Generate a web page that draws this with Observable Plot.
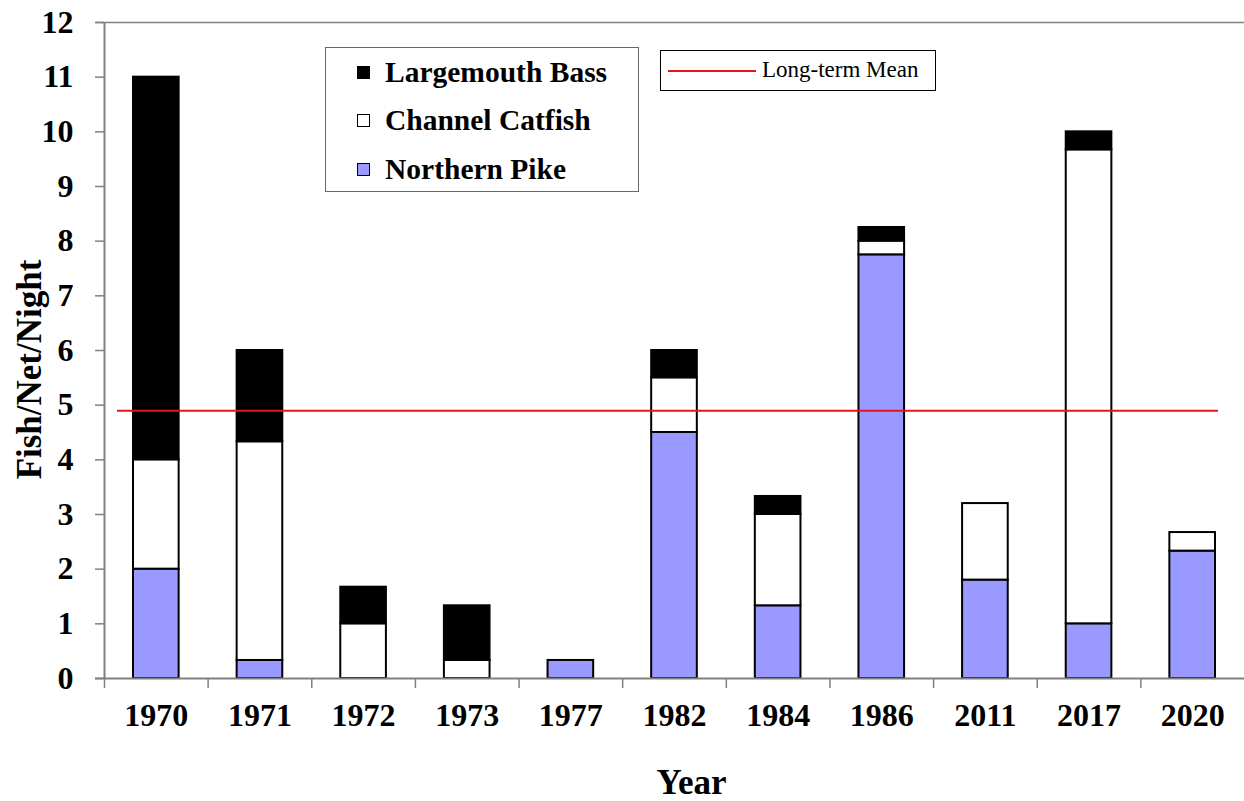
<!DOCTYPE html>
<html><head><meta charset="utf-8">
<script src="https://cdn.jsdelivr.net/npm/d3@7"></script>
<script src="https://cdn.jsdelivr.net/npm/@observablehq/plot@0.6"></script>
<style>
body{margin:0;background:#fff}
#wrap{position:relative;width:1244px;height:801px;font-family:'Liberation Serif',serif}
.leg1{position:absolute;left:325px;top:47px;width:314px;height:145px;border:1px solid #666;box-sizing:border-box;background:#fff}
.leg1 .row{position:absolute;left:31px;height:30px;display:flex;align-items:center;font-family:'Liberation Serif',serif;font-weight:bold;font-size:29.5px;color:#000;white-space:nowrap}
.leg1 .sw{width:13px;height:13px;border:1px solid #000;box-sizing:border-box;margin-right:15px}
.leg2{position:absolute;left:660px;top:50px;width:276px;height:41px;border:1.5px solid #000;box-sizing:border-box;background:#fff}
.leg2 .ln{position:absolute;left:7px;top:19px;width:88px;height:2px;background:#e8141c}
.leg2 .tx{position:absolute;left:101px;top:6px;font-family:'Liberation Serif',serif;font-size:23px;color:#000;white-space:nowrap}
</style>
</head><body><div id="wrap"></div>
<script>
const years = ["1970","1971","1972","1973","1977","1982","1984","1986","2011","2017","2020"];
const species = ["Northern Pike","Channel Catfish","Largemouth Bass"];
const northernPike   = [2.0, 0.33, 0, 0, 0.33, 4.5, 1.33, 7.75, 1.8, 1.0, 2.33];
const channelCatfish = [2.0, 4.0, 1.0, 0.33, 0, 1.0, 1.67, 0.25, 1.4, 8.67, 0.34];
const largemouthBass = [7.0, 1.67, 0.67, 1.0, 0, 0.5, 0.33, 0.25, 0, 0.33, 0];
const longTermMean = 4.9;
const yTicks = [0,1,2,3,4,5,6,7,8,9,10,11,12];
const colors = ["#9999ff","#ffffff","#000000"];

const series = [northernPike, channelCatfish, largemouthBass];
const data = [];
years.forEach((yr, i) => {
  species.forEach((sp, s) => {
    if (series[s][i] > 0) data.push({year: yr, species: sp, value: series[s][i]});
  });
});

const W = 1244, H = 801, mL = 104, mR = 0, mT = 22, mB = 123;
const step = (W - mL - mR) / years.length;
const serif = "'Liberation Serif','Times New Roman',serif";

const chart = Plot.plot({
  width: W, height: H,
  marginLeft: mL, marginRight: mR, marginTop: mT, marginBottom: mB,
  style: {fontFamily: serif, fontSize: "32px", fontWeight: "bold", color: "#000", background: "#fff", overflow: "visible"},
  x: {domain: years, padding: 0, round: false, label: null},
  y: {domain: [0, 12], label: null},
  color: {domain: species, range: colors},
  marks: [
    Plot.ruleY([12], {stroke: "#808080", strokeWidth: 1.5, insetLeft: -9}),
    Plot.barY(data, {x: "year", y: "value", fill: "species", stroke: "#000", strokeWidth: 2, insetLeft: 29, insetRight: 29}),
    Plot.ruleY([0], {stroke: "#808080", strokeWidth: 2, insetLeft: -9}),
    Plot.ruleX([years[0]], {dx: -step / 2, y1: 0, y2: 12, stroke: "#808080", strokeWidth: 2}),
    Plot.axisY({ticks: yTicks, tickSize: 9, tickPadding: 22, stroke: "#808080", strokeWidth: 1.5, label: null, fontSize: 32, fontFamily: serif, fontWeight: "bold", tickFormat: d => String(d)}),
    Plot.axisX({tickSize: 10, dx: -step / 2, stroke: "#808080", strokeWidth: 1.5, tickFormat: () => "", label: null}),
    Plot.axisX({tickSize: 0, tickPadding: 25, label: null, fontSize: 32, fontFamily: serif, fontWeight: "bold"}),
    Plot.ruleY([longTermMean], {stroke: "#e8141c", strokeWidth: 2, insetLeft: 13, insetRight: 26}),
    Plot.text(["Fish/Net/Night"], {frameAnchor: "left", text: d => d, rotate: -90, textAnchor: "middle", dx: -75, dy: 19, fontSize: 35, fontWeight: "bold", fontFamily: serif}),
    Plot.text(["Year"], {frameAnchor: "bottom", text: d => d, textAnchor: "middle", dx: 17, dy: 104, fontSize: 35, fontWeight: "bold", fontFamily: serif, lineAnchor: "middle"})
  ]
});

const wrap = document.getElementById("wrap");
wrap.appendChild(chart);

const leg1 = document.createElement("div");
leg1.className = "leg1";
const order = [2, 1, 0];
const tops = [9, 57, 106];
order.forEach((s, k) => {
  const row = document.createElement("div");
  row.className = "row";
  row.style.top = tops[k] + "px";
  const sw = document.createElement("span");
  sw.className = "sw";
  sw.style.background = colors[s];
  row.appendChild(sw);
  row.appendChild(document.createTextNode(species[s]));
  leg1.appendChild(row);
});
wrap.appendChild(leg1);

const leg2 = document.createElement("div");
leg2.className = "leg2";
leg2.innerHTML = '<div class="ln"></div><div class="tx">Long-term Mean</div>';
wrap.appendChild(leg2);
</script>
</body></html>
